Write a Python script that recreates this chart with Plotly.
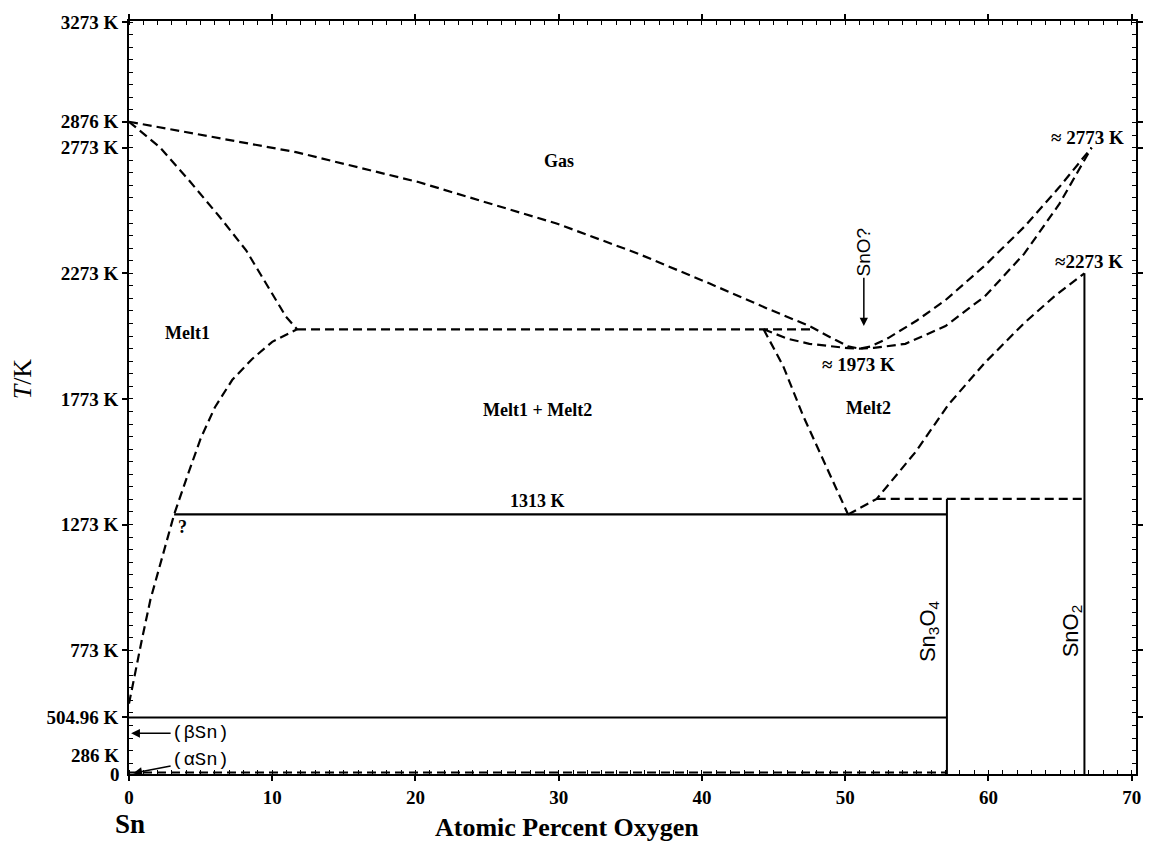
import plotly.graph_objects as go

# ---------------- Sn–O phase diagram data (x: at.% O, T: K) ----------------
# Melt1 liquidus: Melt1 / (Melt1 + Melt2) boundary, down towards pure Sn
melt1_liq_x = [0.0, 0.3, 0.9, 1.5, 2.2, 3.15, 4.1, 5.0, 6.0, 7.2, 8.6, 10.0, 11.73]
melt1_liq_T = [560, 650, 815, 975, 1120, 1313, 1470, 1615, 1740, 1848, 1932, 2000, 2050]

# Gas / Melt1 boundary from the Sn boiling point
melt1_gas_x = [0.0, 2.15, 4.23, 6.32, 8.19, 9.58, 10.96, 11.73]
melt1_gas_T = [2876, 2775, 2640, 2498, 2363, 2233, 2100, 2050]

# Gas boundary (upper curve) through the congruent minimum to SnO2
gas_x = [0.0, 11.66, 20.2, 29.9, 35.5, 40.5, 44.5, 47.5, 49.3, 50.2, 51.0, 51.8, 53.0,
         55.0, 57.0, 59.75, 62.5, 64.95, 67.2]
gas_T = [2876, 2755, 2636, 2470, 2352, 2233, 2134, 2063, 2008, 1982, 1973, 1982, 2015,
         2085, 2166, 2304, 2458, 2616, 2773]

# Melt2 upper boundary (lower curve) from the monotectic point to SnO2
melt2_top_x = [44.3, 46.0, 47.5, 49.0, 50.2, 51.0, 52.0, 54.2, 57.0, 59.75, 62.5, 64.95, 67.2]
melt2_top_T = [2050, 2012, 1992, 1981, 1975, 1973, 1976, 1992, 2063, 2181, 2351, 2549, 2773]

# Miscibility gap, Melt2 side
gap_right_x = [44.3, 45.66, 47.05, 48.44, 50.2]
gap_right_T = [2050, 1905, 1707, 1533, 1313]

# SnO2 liquidus (Melt2 / Melt2 + SnO2)
sno2_liq_x = [50.2, 52.2, 54.9, 57.2, 59.75, 62.5, 64.6, 66.7]
sno2_liq_T = [1313, 1375, 1561, 1750, 1917, 2075, 2181, 2273]

# Invariant lines and compounds
T_sn_boil = 2876
T_gap = 2050            # upper three-phase line of the miscibility gap
gap_x_range = [11.73, 47.9]
T_mono = 1313           # monotectic
mono_x_range = [3.15, 57.1]
T_peri = 1375           # Sn3O4 decomposition level
peri_x_range = [52.2, 66.7]
T_sn_melt = 504.96
T_ab = 286              # alpha/beta Sn transition
x_Sn3O4 = 57.1
x_SnO2 = 66.7
T_SnO2_top = 2273

# Axis ticks
x_ticks = [0, 10, 20, 30, 40, 50, 60, 70]
y_ticks = [3273, 2876, 2773, 2273, 1773, 1273, 773, 504.96]
y_text = ["3273 K", "2876 K", "2773 K", "2273 K", "1773 K", "1273 K", "773 K", "504.96 K"]

SERIF = "Liberation Serif"
SANS = "Liberation Sans"
DASH = "9px,5px"
LW = 2.2

fig = go.Figure()


def line(x, y, dashed=False, width=LW):
    fig.add_trace(go.Scatter(
        x=x, y=y, mode="lines", hoverinfo="skip", showlegend=False,
        line=dict(color="black", width=width, dash=DASH if dashed else "solid"),
    ))


# dashed phase boundaries
line(melt1_liq_x, melt1_liq_T, dashed=True)
line(melt1_gas_x, melt1_gas_T, dashed=True)
line(gas_x, gas_T, dashed=True)
line(melt2_top_x, melt2_top_T, dashed=True)
line(gap_right_x, gap_right_T, dashed=True)
line(sno2_liq_x, sno2_liq_T, dashed=True)
line(gap_x_range, [T_gap, T_gap], dashed=True)
line(peri_x_range, [T_peri, T_peri], dashed=True)
line([0, x_Sn3O4], [T_ab, T_ab], dashed=True)

# solid invariant lines and compound lines
line(mono_x_range, [T_mono, T_mono])
line([0, x_Sn3O4], [T_sn_melt, T_sn_melt])
line([x_Sn3O4, x_Sn3O4], [0, T_peri], width=2)
line([x_SnO2, x_SnO2], [0, T_SnO2_top], width=2)

bold = dict(family=SERIF, color="black", weight="bold")


def label(x, y, text, size=18, **kw):
    fig.add_annotation(x=x, y=y, text=text, showarrow=False,
                       font=dict(size=size, **bold), **kw)


label(30.0, 2719, "Gas")
label(4.1, 2035, "Melt1")
label(28.5, 1727, "Melt1 + Melt2")
label(51.6, 1738, "Melt2")
label(28.5, T_mono, "1313 K", yanchor="bottom", yshift=1)
label(3.75, T_mono, "?", yanchor="top", yshift=-1)
label(50.9, 1909, "≈ 1973 K", size=19)
label(66.9, 2814, "≈ 2773 K", size=19)
label(67.0, 2320, "≈2273 K", size=19)

# compound names
for xc, txt in [(55.8, "Sn<sub>3</sub>O<sub>4</sub>"), (65.8, "SnO<sub>2</sub>")]:
    fig.add_annotation(x=xc, y=850, text=txt, showarrow=False, textangle=-90,
                       font=dict(family=SANS, size=22, color="black"))

# SnO? pointer
fig.add_annotation(x=51.3, y=2063, ax=51.3, ay=2359, axref="x", ayref="y",
                   text="SnO?", textangle=-90, showarrow=True,
                   arrowhead=2, arrowsize=1.1, arrowwidth=1.5, arrowcolor="black",
                   font=dict(family=SANS, size=19, color="black"))

# (βSn) and (αSn) pointers at pure Sn
mono = dict(family="Liberation Mono", size=19, color="black")
fig.add_annotation(x=0.15, y=442, ax=5.0, ay=442, axref="x", ayref="y",
                   text="(βSn)", showarrow=True, arrowhead=2, arrowsize=1.1,
                   arrowwidth=1.6, arrowcolor="black", font=mono)
fig.add_annotation(x=0.3, y=283, ax=5.0, ay=335, axref="x", ayref="y",
                   text="(αSn)", showarrow=True, arrowhead=2, arrowsize=1.1,
                   arrowwidth=1.6, arrowcolor="black", font=mono)

# lower axis labels of the compressed low-temperature part
fig.add_annotation(x=0, y=T_ab, xref="paper", text="286 K", showarrow=False,
                   xanchor="right", yanchor="middle", xshift=-8, yshift=17,
                   font=dict(size=19, **bold))
fig.add_annotation(x=0, y=0, xref="paper", yref="paper", text="0", showarrow=False,
                   xanchor="right", yanchor="middle", xshift=-7,
                   font=dict(size=19, **bold))

# axis titles and the Sn end member
fig.add_annotation(x=0.435, y=-0.071, xref="paper", yref="paper", yanchor="middle",
                   text="Atomic Percent Oxygen", showarrow=False,
                   font=dict(size=26, **bold))
fig.add_annotation(x=-0.016, y=-0.067, xref="paper", yref="paper", yanchor="middle",
                   text="Sn", showarrow=False, font=dict(size=27, **bold))
fig.add_annotation(x=-0.122, y=0.525, xref="paper", yref="paper",
                   text="<i>T</i>/K", textangle=-90, showarrow=False,
                   font=dict(family=SERIF, size=26, color="black"))

axis_common = dict(
    showline=True, linecolor="black", linewidth=2, mirror="allticks",
    showgrid=False, zeroline=False, ticks="outside", tickcolor="black",
    tickwidth=1.5, ticklen=5, tickfont=dict(size=19, **bold),
)

fig.update_layout(
    width=1155, height=842,
    margin=dict(l=129, r=13, t=16, b=68),
    paper_bgcolor="white", plot_bgcolor="white",
    xaxis=dict(range=[0, 70.3], tickmode="array", tickvals=x_ticks,
               minor=dict(dtick=1, tick0=0, ticks="inside", ticklen=4,
                          tickcolor="black", tickwidth=1.2),
               **axis_common),
    yaxis=dict(range=[280, 3277], tickmode="array", tickvals=y_ticks, ticktext=y_text,
               minor=dict(dtick=50, tick0=273, ticks="inside", ticklen=4,
                          tickcolor="black", tickwidth=1.2),
               **axis_common),
)

fig.write_html("out.html")
